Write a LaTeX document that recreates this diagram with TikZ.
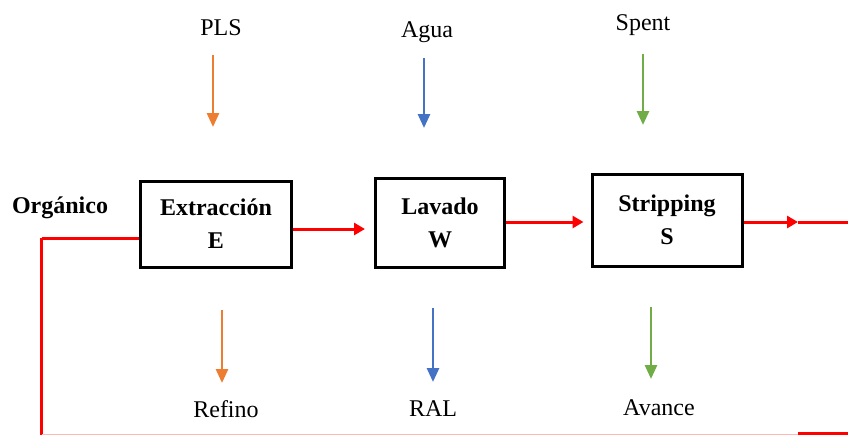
\documentclass[tikz,border=0pt]{standalone}
\usepackage{fontspec}
\setmainfont{Liberation Serif}
\usetikzlibrary{arrows.meta,positioning}

\definecolor{plsorange}{HTML}{ED7D31}
\definecolor{aguablue}{HTML}{4472C4}
\definecolor{spentgreen}{HTML}{70AD47}
\definecolor{retpink}{HTML}{FFB8B8}

\begin{document}
\begin{tikzpicture}[x=0.5pt,y=-0.5pt,
        etapa/.style={draw,line width=1.5pt,align=center,inner sep=0pt,
                      font=\bfseries\fontsize{12}{16.5}\selectfont},
        lbl/.style={inner sep=0pt,anchor=base,font=\fontsize{12}{14}\selectfont},
        flujo/.style={-{Triangle[length=7pt,width=6pt]},line width=1.4pt},
        organ/.style={red,line width=1.5pt},
        redtip/.style={-{Triangle[length=5.5pt,width=6pt]}}]

        \useasboundingbox (0,0) rectangle (848,435);

        % etapas
        \node[etapa,minimum width=75.5pt,minimum height=43pt] (E) at (216,224) {Extracción\\E};
        \node[etapa,minimum width=64.5pt,minimum height=44.5pt] (W) at (440,222.5) {Lavado\\W};
        \node[etapa,minimum width=75pt,minimum height=46pt] (S) at (667,220) {Stripping\\S};

        % corrientes
        \node[lbl] (pls) at (221,35) {PLS};
        \node[lbl] (agua) at (427,37) {Agua};
        \node[lbl] (spent) at (643,30) {Spent};
        \node[lbl] (refino) at (226,417) {Refino};
        \node[lbl] (ral) at (433,416) {RAL};
        \node[lbl] (avance) at (659,415) {Avance};
        \node[lbl,font=\bfseries\fontsize{12}{14}\selectfont] (organico) at (60,213) {Orgánico};

        \coordinate (plsA) at (213,55);   \coordinate (plsB) at (213,127);
        \coordinate (aguaA) at (424,58);  \coordinate (aguaB) at (424,128);
        \coordinate (spentA) at (643,54); \coordinate (spentB) at (643,125);
        \coordinate (refA) at (222,310);  \coordinate (refB) at (222,383);
        \coordinate (ralA) at (433,308);  \coordinate (ralB) at (433,382);
        \coordinate (avA) at (651,307);   \coordinate (avB) at (651,379);

        \draw[flujo,plsorange] (plsA) -- (plsB);
        \draw[flujo,aguablue] (aguaA) -- (aguaB);
        \draw[flujo,spentgreen] (spentA) -- (spentB);
        \draw[flujo,plsorange] (refA) -- (refB);
        \draw[flujo,aguablue] (ralA) -- (ralB);
        \draw[flujo,spentgreen] (avA) -- (avB);

        % organico
        \coordinate (ret) at (41.5,238);
        \coordinate (retBot) at (41.5,435);
        \coordinate (mid) at (798,222);
        \coordinate (salida) at (848,222);
        \coordinate (retEnd) at (798,434.3);
        \coordinate (salidaBot) at (848,433.5);

        \draw[organ] (ret) -- (ret -| E.west);
        \draw[organ,line width=1.7pt] (ret) -- (retBot);
        \draw[organ,redtip,shorten >=4.5pt] (E.east |- 0,229) -- (W.west |- 0,229);
        \draw[organ,redtip,shorten >=3.5pt] (W.east |- 0,222) -- (S.west |- 0,222);
        \draw[organ,redtip] (S.east |- mid) -- (mid);
        \draw[organ] (mid) -- (salida);
        \draw[retpink,line width=0.8pt] (retBot |- retEnd) -- (retEnd);
        \draw[organ] (retEnd |- salidaBot) -- (salidaBot);
    \end{tikzpicture}
\end{document}
